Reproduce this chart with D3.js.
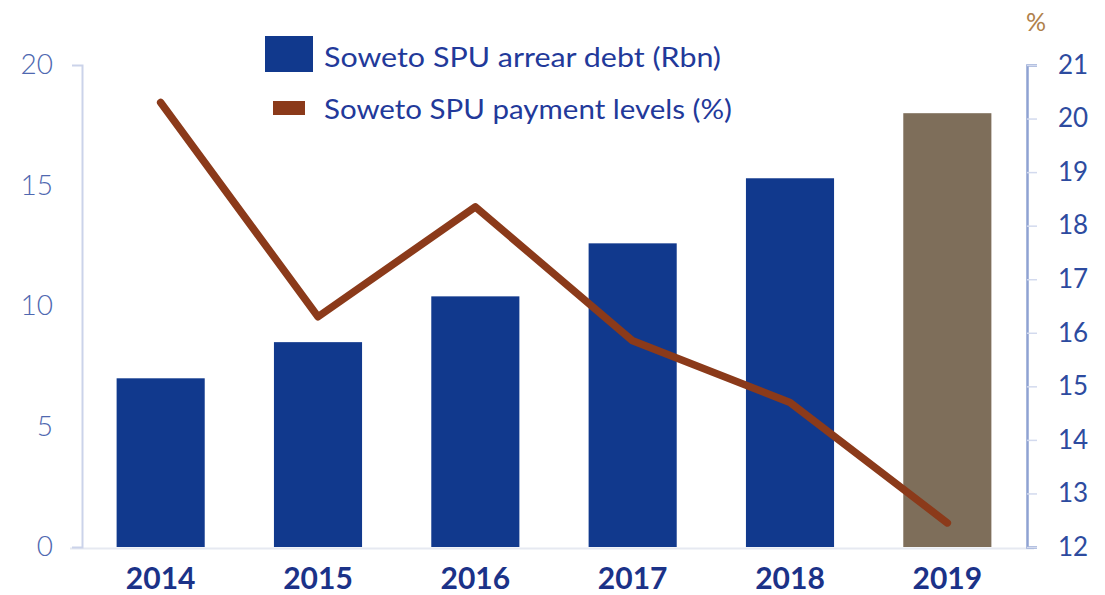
<!DOCTYPE html>
<html>
<head>
<meta charset="utf-8">
<script src="https://cdn.jsdelivr.net/npm/d3@7"></script>
<style>
  body { margin: 0; background: #fff; }
  svg { display: block; }
</style>
</head>
<body>
<div id="chart"></div>
<script>
// chart values
var years = ["2014", "2015", "2016", "2017", "2018", "2019"];
var arrearDebt = [7.0, 8.5, 10.4, 12.6, 15.3, 18.0];     // Rbn, left axis
var paymentLevels = [20.3, 16.3, 18.35, 15.85, 14.7, 12.45]; // %, right axis
var leftTicks = [0, 5, 10, 15, 20];
var rightTicks = [12, 13, 14, 15, 16, 17, 18, 19, 20, 21];
var legendLabels = ["Soweto SPU arrear debt (Rbn)", "Soweto SPU payment levels (%)"];
var legendWidths = [397, 408];

var W = 1105, H = 595;
var blue = "#11398d", brown = "#7e6e5a", rust = "#8b3a1a";

var svg = d3.select("#chart").append("svg")
    .attr("width", W)
    .attr("height", H);

var x = d3.scaleBand()
    .domain(years)
    .range([82, 1026])
    .paddingInner(0.44)
    .paddingOuter(0.22);

var yL = d3.scaleLinear().domain([0, 20]).range([547, 65]);
var yR = d3.scaleLinear().domain([12, 21]).range([547, 65]);

// baseline
svg.append("line")
    .attr("x1", 70).attr("x2", 1034)
    .attr("y1", 548.5).attr("y2", 548.5)
    .attr("stroke", "#e6e9f1")
    .attr("stroke-width", 2);

// left axis
var gL = svg.append("g")
    .attr("transform", "translate(82,0)")
    .call(d3.axisLeft(yL).tickValues(leftTicks).tickSize(0).tickSizeOuter(10).tickPadding(29));
gL.select(".domain").attr("stroke", "#cbd3ea").attr("stroke-width", 2);
gL.selectAll(".tick text")
    .attr("fill", "#4f68b0")
    .style("font-family", "Lato, 'Open Sans', sans-serif")
    .style("font-weight", 300)
    .style("font-size", "28px");

// right axis
var gR = svg.append("g")
    .attr("transform", "translate(1027,0)")
    .call(d3.axisRight(yR).tickValues(rightTicks).tickSize(10).tickSizeOuter(10).tickPadding(21));
gR.select(".domain").attr("stroke", "#8fa2d2").attr("stroke-width", 2.5);
gR.selectAll(".tick line").attr("stroke", "#d3daee").attr("stroke-width", 1.5);
gR.selectAll(".tick text")
    .attr("fill", "#2d4b9f")
    .style("font-family", "Lato, 'Open Sans', sans-serif")
    .style("font-size", "26px");

svg.append("text")
    .attr("x", 1036).attr("y", 31)
    .attr("text-anchor", "middle")
    .attr("fill", "#b0804a")
    .style("font-family", "Lato, sans-serif")
    .style("font-size", "25px")
    .text("%");

// bars
svg.selectAll(".bar")
    .data(years)
    .enter().append("rect")
    .attr("class", "bar")
    .attr("x", function(d) { return x(d); })
    .attr("width", x.bandwidth())
    .attr("y", function(d, i) { return yL(arrearDebt[i]); })
    .attr("height", function(d, i) { return yL(0) - yL(arrearDebt[i]); })
    .attr("fill", function(d, i) { return i == years.length - 1 ? brown : blue; });

// payment level line
var line = d3.line()
    .x(function(d, i) { return x(years[i]) + x.bandwidth() / 2; })
    .y(function(d) { return yR(d); });

svg.append("path")
    .datum(paymentLevels)
    .attr("d", line)
    .attr("fill", "none")
    .attr("stroke", rust)
    .attr("stroke-width", 7.5)
    .attr("stroke-linejoin", "round")
    .attr("stroke-linecap", "round");

// x labels
svg.selectAll(".xlab")
    .data(years)
    .enter().append("text")
    .attr("class", "xlab")
    .attr("x", function(d) { return x(d) + x.bandwidth() / 2; })
    .attr("y", 589)
    .attr("text-anchor", "middle")
    .attr("fill", "#1b3288")
    .style("font-family", "Lato, sans-serif")
    .style("font-weight", 700)
    .style("font-size", "30px")
    .text(function(d) { return d; });

// legend
var legend = svg.append("g");
legend.append("rect")
    .attr("x", 265).attr("y", 36).attr("width", 48).attr("height", 36)
    .attr("fill", blue);
legend.append("rect")
    .attr("x", 273).attr("y", 101).attr("width", 32).attr("height", 14)
    .attr("fill", rust);
legend.selectAll(".ltxt")
    .data(legendLabels)
    .enter().append("text")
    .attr("class", "ltxt")
    .attr("x", 324)
    .attr("y", function(d, i) { return 67 + i * 52; })
    .attr("textLength", function(d, i) { return legendWidths[i]; })
    .attr("lengthAdjust", "spacingAndGlyphs")
    .attr("fill", "#22399a")
    .style("font-family", "Lato, 'Open Sans', sans-serif")
    .style("font-size", "27px")
    .text(function(d) { return d; });
</script>
</body>
</html>
